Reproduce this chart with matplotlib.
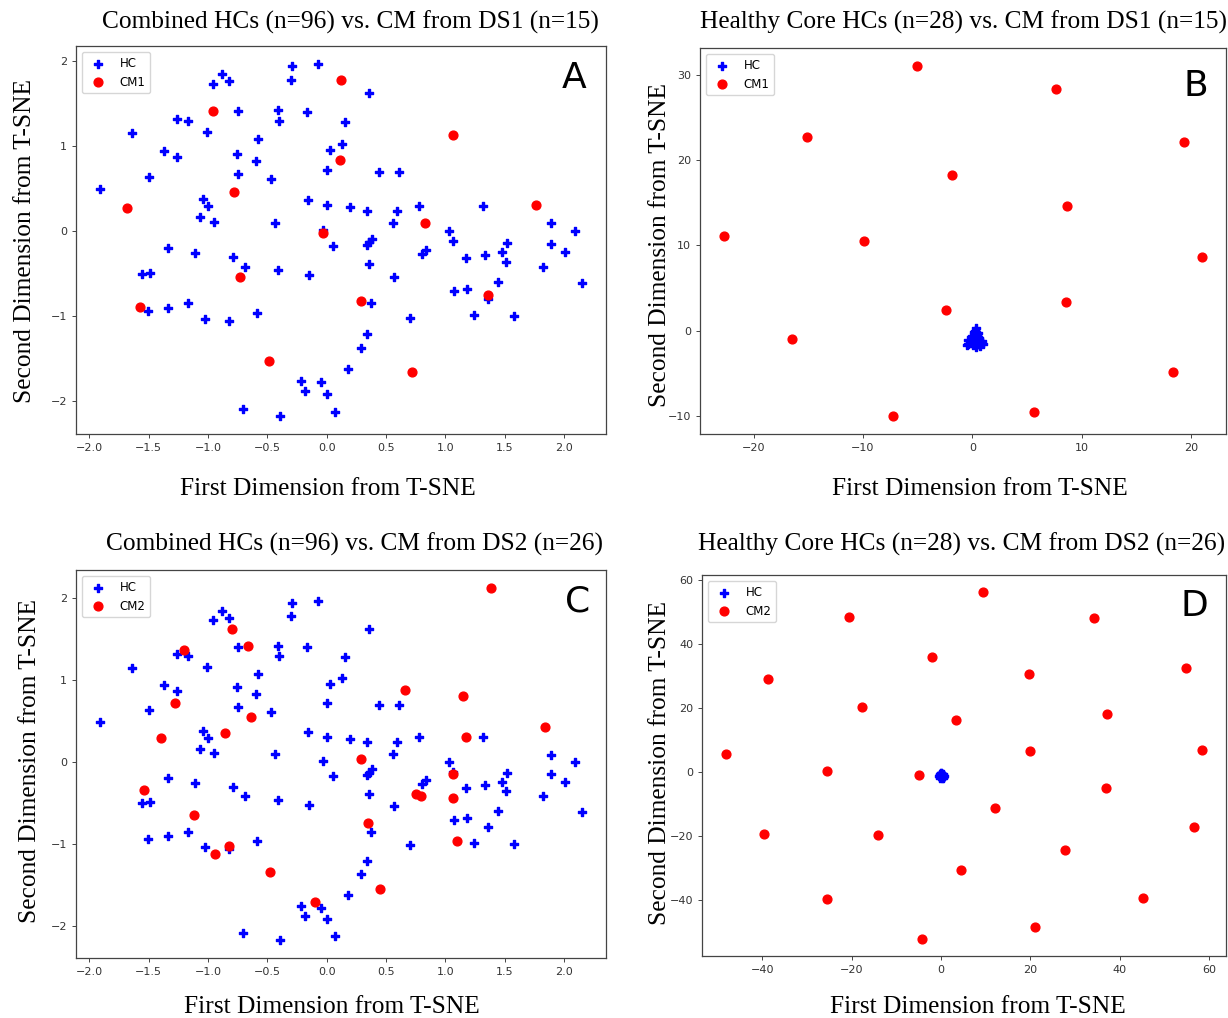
import numpy as np
import matplotlib
matplotlib.use("Agg")
import matplotlib.pyplot as plt

W, H = 1228, 1018

# combined healthy controls (same embedding in panels A and C)
hc_x = [-1.91, -1.64, -1.50, -1.37, -1.26, -1.17, -1.26, -1.01, -0.96, -0.88,
        -0.82, -0.75, -0.58, -0.76, -0.60, -0.75, -0.47, -0.41, -0.40, -0.29,
        -0.30, -0.17, -0.07, 0.03, 0.00, -0.16, 0.00, -1.04, -1.00, -1.07,
        -0.95, -0.44, -0.03, 0.05, -1.34, -1.11, -0.79, -0.69, -0.41, -0.15,
        -1.56, -1.49, -1.51, -1.34, -1.17, -1.03, -0.82, -0.59, -0.22, -0.18,
        -0.05, 0.00, -0.71, -0.39, 0.07,
        0.36, 0.15, 0.13, 0.44, 0.61, 0.20, 0.34, 0.59, 0.56, 0.78,
        1.32, 0.38, 0.36, 0.34, 0.36, 0.57, 0.80, 0.84, 1.03, 1.06,
        1.17, 1.33, 1.52, 1.48, 1.51, 1.44, 1.36, 1.07, 1.18, 1.24,
        1.58, 1.89, 1.89, 2.09, 2.01, 1.82, 2.15, 0.37, 0.70, 0.34,
        0.29, 0.18]
hc_y = [0.49, 1.15, 0.64, 0.94, 1.32, 1.30, 0.87, 1.16, 1.73, 1.85,
        1.76, 1.41, 1.08, 0.91, 0.83, 0.67, 0.61, 1.42, 1.30, 1.94,
        1.78, 1.40, 1.97, 0.95, 0.72, 0.36, 0.31, 0.38, 0.29, 0.16,
        0.11, 0.10, 0.01, -0.17, -0.20, -0.26, -0.31, -0.42, -0.46, -0.52,
        -0.50, -0.49, -0.94, -0.90, -0.85, -1.04, -1.06, -0.96, -1.76, -1.88,
        -1.78, -1.92, -2.09, -2.18, -2.13,
        1.62, 1.28, 1.03, 0.70, 0.70, 0.28, 0.24, 0.24, 0.10, 0.30,
        0.30, -0.09, -0.13, -0.16, -0.39, -0.54, -0.27, -0.22, 0.00, -0.12,
        -0.32, -0.28, -0.14, -0.25, -0.36, -0.60, -0.80, -0.71, -0.68, -0.99,
        -1.00, 0.09, -0.15, 0.00, -0.25, -0.42, -0.61, -0.85, -1.02, -1.21,
        -1.37, -1.62]

# CM patients from DS1 against combined HCs (panel A)
cm1_x = [-1.68, -1.57, -0.96, -0.78, -0.73, -0.49, -0.03, 0.12, 0.11, 1.06,
         0.83, 0.29, 0.72, 1.36, 1.76]
cm1_y = [0.27, -0.89, 1.41, 0.46, -0.54, -1.53, -0.02, 1.78, 0.84, 1.13,
         0.10, -0.82, -1.66, -0.75, 0.31]

# CM patients from DS2 against combined HCs (panel C)
cm2_x = [-1.54, -1.40, -1.28, -1.20, -1.12, -0.94, -0.82, -0.86, -0.80, -0.66,
         -0.64, -0.48, -0.10, 1.38, 0.66, 1.15, 1.17, 1.84, 0.29, 1.06,
         0.75, 0.79, 1.06, 0.35, 1.10, 0.45]
cm2_y = [-0.34, 0.29, 0.72, 1.37, -0.65, -1.13, -1.03, 0.35, 1.62, 1.42,
         0.55, -1.35, -1.71, 2.13, 0.88, 0.81, 0.30, 0.43, 0.03, -0.15,
         -0.39, -0.41, -0.44, -0.74, -0.96, -1.55]

# healthy core HCs, embedded with DS1 (panel B)
hcb_x = [0.30, 0.25, 0.35, 0.15, 0.40, 0.05, 0.50, 0.30, -0.05, 0.65,
         0.20, -0.40, 0.45, 0.85, 0.10, 0.60, -0.20, 0.35, 0.95, 0.20,
         0.50, 0.75, -0.35, 0.00, 0.70, 0.15, 0.40, -0.50]
hcb_y = [0.30, 0.00, -0.20, -0.40, -0.50, -0.80, -0.70, -0.90, -1.10, -1.00,
         -1.30, -1.50, -1.40, -1.20, -1.70, -1.60, -1.40, -1.90, -1.60, -0.20,
         -0.30, -1.80, -1.10, -0.60, -1.40, -1.00, -1.50, -1.70]
cmb_x = [-22.73, -15.14, -5.05, -1.82, -9.87, -2.38, -16.46, -7.27, 5.61, 7.68,
         8.65, 8.56, 19.40, 21.03, 18.34]
cmb_y = [11.13, 22.73, 31.05, 18.20, 10.47, 2.46, -1.02, -10.04, -9.57, 28.28,
         14.57, 3.40, 22.07, 8.63, -4.88]

# healthy core HCs, embedded with DS2 (panel D)
hcd_x = [0.1, -0.2, 0.3, 0.5, -0.3, 0.0, 0.2, 0.4, -0.1, 0.6,
         -0.4, 0.15, 0.35, -0.25, 0.05, 0.45, 0.25, -0.15, 0.55, 0.0,
         0.3, -0.3, 0.2, 0.1, 0.4, -0.05, 0.5, -0.2]
hcd_y = [-0.4, -0.7, -0.6, -1.0, -1.1, -1.3, -0.9, -1.4, -1.6, -1.2,
         -1.4, -1.8, -1.7, -0.9, -1.0, -0.8, -1.2, -1.9, -1.5, -0.3,
         -1.5, -1.6, -1.1, -1.5, -1.9, -0.6, -1.6, -1.2]
cmd_x = [-48.15, -38.69, -39.69, -25.54, -25.54, -20.54, -17.62, -14.08, -5.00, -4.31,
         -1.92, 3.31, 4.38, 9.38, 12.00, 19.62, 19.85, 21.15, 27.77, 34.31,
         37.23, 36.92, 45.31, 54.77, 56.62, 58.46]
cmd_y = [5.41, 29.00, -19.33, 0.31, -39.71, 48.34, 20.27, -19.65, -1.14, -52.08,
         35.97, 16.32, -30.56, 56.03, -11.33, 30.56, 6.55, -48.44, -24.32, 48.02,
         18.19, -5.09, -39.29, 32.33, -17.15, 6.86]

titles = ["Combined HCs (n=96) vs. CM from DS1 (n=15)",
          "Healthy Core HCs (n=28) vs. CM from DS1 (n=15)",
          "Combined HCs (n=96) vs. CM from DS2 (n=26)",
          "Healthy Core HCs (n=28) vs. CM from DS2 (n=26)"]
letters = ["A", "B", "C", "D"]
cm_names = ["CM1", "CM1", "CM2", "CM2"]

plt.rcParams["axes.edgecolor"] = "#444444"
plt.rcParams["xtick.color"] = "#444444"
plt.rcParams["ytick.color"] = "#444444"

fig = plt.figure(figsize=(W / 100, H / 100), dpi=100)


def fx(x):
    return x / W


def fy(y):
    return 1 - y / H


# axes boxes in pixels: left, top, right, bottom
boxes = [(76, 46, 606, 434), (700, 48, 1226, 434),
         (76, 570, 606, 958), (702, 575, 1226, 956)]
data = [(hc_x, hc_y, cm1_x, cm1_y), (hcb_x, hcb_y, cmb_x, cmb_y),
        (hc_x, hc_y, cm2_x, cm2_y), (hcd_x, hcd_y, cmd_x, cmd_y)]
title_pos = [(350, 22), (964, 22), (354, 544), (962, 544)]
xlab_pos = [(328, 489), (980, 489), (332, 1007), (978, 1007)]
ylab_pos = [(25, 241), (660, 245), (30, 761), (660, 763)]
letter_pos = [(574, 78), (1196, 86), (578, 601), (1194, 606)]

serif = "Liberation Serif"
fs = 18.3

for i in range(4):
    l, t, r, b = boxes[i]
    ax = fig.add_axes([fx(l), fy(b), (r - l) / W, (b - t) / H])
    x1, y1, x2, y2 = data[i]
    ax.scatter(x1, y1, marker="P", s=40, color="blue", label="HC")
    ax.scatter(x2, y2, marker="o", s=40, color="red", label=cm_names[i])
    ax.tick_params(labelsize=8, length=2.8, width=0.7, labelcolor="#333333")
    for sp in ax.spines.values():
        sp.set_linewidth(0.9)
    ax.legend(loc="upper left", fontsize=8.5)

    fig.text(fx(title_pos[i][0]), fy(title_pos[i][1]), titles[i],
             family=serif, fontsize=fs, ha="center", va="center")
    fig.text(fx(xlab_pos[i][0]), fy(xlab_pos[i][1]), "First Dimension from T-SNE",
             family=serif, fontsize=fs, ha="center", va="center")
    fig.text(fx(ylab_pos[i][0]), fy(ylab_pos[i][1]), "Second Dimension from T-SNE",
             family=serif, fontsize=fs, ha="center", va="center", rotation=90)
    fig.text(fx(letter_pos[i][0]), fy(letter_pos[i][1]), letters[i],
             fontsize=26, ha="center", va="center")

fig.savefig("out.png", dpi=100)
